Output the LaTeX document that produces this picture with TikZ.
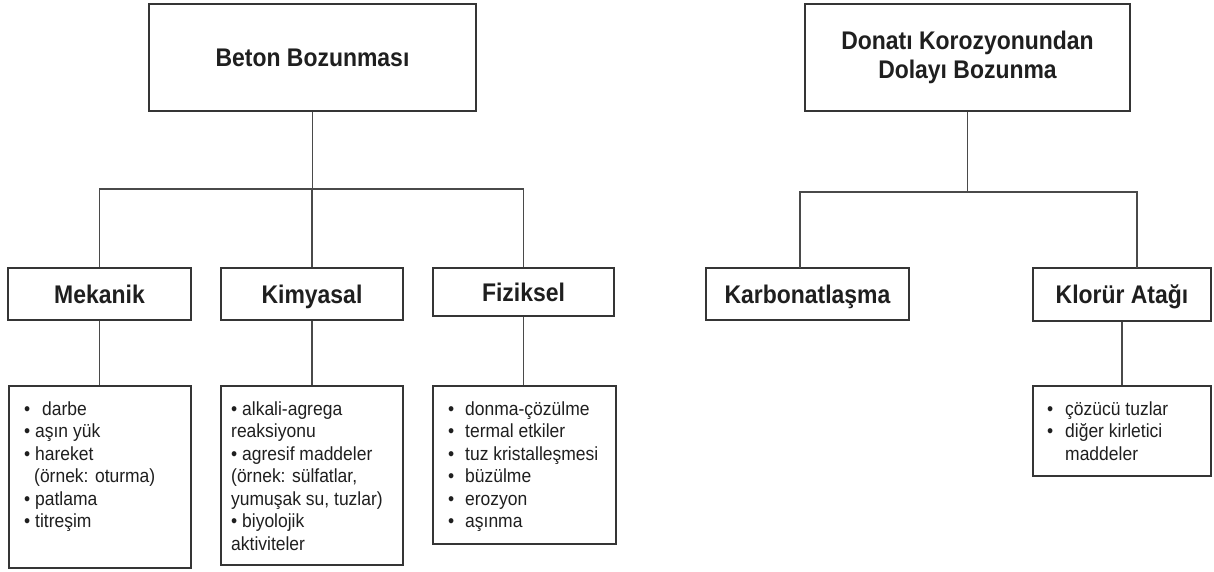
\documentclass[tikz,border=0pt]{standalone}
\usepackage{fontspec}
\setmainfont{Liberation Sans}
\newfontfamily\hdfont[FakeStretch=0.9]{Liberation Sans}
\newfontfamily\lsfont[FakeStretch=0.92]{Liberation Sans}
\usetikzlibrary{calc}
\definecolor{ink}{HTML}{1f1f1f}
\definecolor{boxc}{HTML}{353535}
\definecolor{linec}{HTML}{4a4a4a}
\begin{document}
\begin{tikzpicture}[x=1pt,y=-1pt,
  hbox/.style={draw=boxc,line width=2.4pt,inner sep=0pt,text=ink,align=center,
    font=\hdfont\bfseries\fontsize{25.5}{29}\selectfont},
  mbox/.style={hbox,text height=22pt,text depth=4pt},
  lbox/.style={draw=boxc,line width=2.4pt,inner sep=0pt},
  lt/.style={anchor=base west,inner sep=0pt,text=ink,font=\lsfont\fontsize{19}{22}\selectfont},
  conn/.style={draw=linec,line width=1.5pt}]
\useasboundingbox[fill=white] (0,0) rectangle (1214,571);

% top boxes
\node[hbox,minimum width=327pt,minimum height=107pt] (beton) at (312.5,57.5) {Beton Bozunması};
\node[hbox,minimum width=325pt,minimum height=107pt] (donati) at (967.5,57.5) {Donatı Korozyonundan\\Dolayı Bozunma};

% middle boxes
\node[mbox,minimum width=183pt,minimum height=52pt] (mek) at (99.5,294) {Mekanik};
\node[mbox,minimum width=182pt,minimum height=52pt] (kim) at (312,294) {Kimyasal};
\node[mbox,minimum width=181pt,minimum height=48pt] (fiz) at (523.5,292) {Fiziksel};
\node[mbox,minimum width=203pt,minimum height=52pt] (kar) at (807.5,294) {Karbonatlaşma};
\node[mbox,minimum width=178pt,minimum height=53pt] (klo) at (1122,294.5) {Klorür Atağı};

% list boxes
\node[lbox,minimum width=182pt,minimum height=182pt] (mekL) at (100,477) {};
\node[lbox,minimum width=182pt,minimum height=179pt] (kimL) at (312,475.5) {};
\node[lbox,minimum width=183pt,minimum height=158pt] (fizL) at (524.5,465) {};
\node[lbox,minimum width=178pt,minimum height=90pt] (kloL) at (1122,431) {};

% list texts
\node[lt] (m1) at (24,415) {\makebox[18pt][l]{•}darbe};
\node[lt] (m2) at (24,437.5) {• aşın yük};
\node[lt] (m3) at (24,460) {• hareket};
\node[lt] (m4) at (34,482.5) {(örnek: oturma)};
\node[lt] (m5) at (24,505) {• patlama};
\node[lt] (m6) at (24,527.5) {• titreşim};

\node[lt] (k1) at (231,415) {• alkali-agrega};
\node[lt] (k2) at (231,437.5) {reaksiyonu};
\node[lt] (k3) at (231,460) {• agresif maddeler};
\node[lt] (k4) at (231,482.5) {(örnek: sülfatlar,};
\node[lt] (k5) at (231,505) {yumuşak su, tuzlar)};
\node[lt] (k6) at (231,527.5) {• biyolojik};
\node[lt] (k7) at (231,550) {aktiviteler};

\node[lt] (f1) at (448,415) {\makebox[17pt][l]{•}donma-çözülme};
\node[lt] (f2) at (448,437.5) {\makebox[17pt][l]{•}termal etkiler};
\node[lt] (f3) at (448,460) {\makebox[17pt][l]{•}tuz kristalleşmesi};
\node[lt] (f4) at (448,482.5) {\makebox[17pt][l]{•}büzülme};
\node[lt] (f5) at (448,505) {\makebox[17pt][l]{•}erozyon};
\node[lt] (f6) at (448,527.5) {\makebox[17pt][l]{•}aşınma};

\node[lt] (c1) at (1047,415) {\makebox[18pt][l]{•}çözücü tuzlar};
\node[lt] (c2) at (1047,437.5) {\makebox[18pt][l]{•}diğer kirletici};
\node[lt] (c3) at (1065,460) {maddeler};

% connectors left tree
\coordinate (busL) at (0,189);
\draw[conn] (beton.south) -- (beton.south |- busL);
\draw[conn] (mek.north) |- (busL -| fiz.north) -- (fiz.north);
\draw[conn] (kim.north) -- (kim.north |- busL);
\draw[conn] (mek.south) -- (mek.south |- mekL.north);
\draw[conn] (kim.south) -- (kimL.north);
\draw[conn] (fiz.south) -- (fiz.south |- fizL.north);

% connectors right tree
\coordinate (busR) at (0,192);
\coordinate (karT) at (800,268);
\coordinate (kloT) at (1137,268);
\draw[conn] (donati.south) -- (donati.south |- busR);
\draw[conn] (karT) |- (busR -| kloT) -- (kloT);
\draw[conn] (klo.south) -- (kloL.north);
\end{tikzpicture}
\end{document}
